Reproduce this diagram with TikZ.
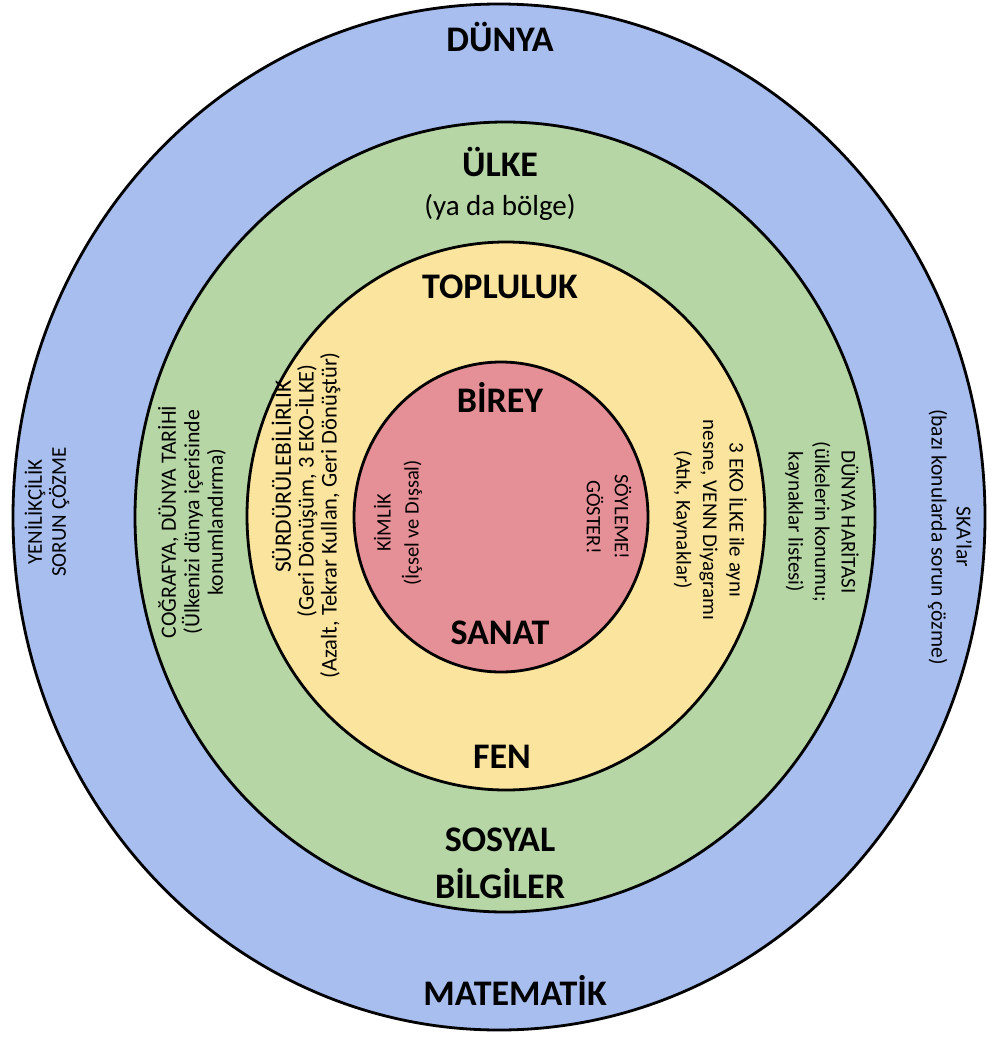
\documentclass[tikz,border=0pt]{standalone}
\usepackage{fontspec}
\setmainfont{Carlito}
\definecolor{blueC}{RGB}{168,190,238}
\definecolor{greenC}{RGB}{183,214,166}
\definecolor{yellowC}{RGB}{250,228,158}
\definecolor{redC}{RGB}{229,143,150}
\begin{document}
\begin{tikzpicture}[x=1pt,y=-1pt,
  ring/.style={draw=black, line width=2.8pt},
  big/.style={font=\fontsize{36}{40}\selectfont\bfseries, anchor=base, inner sep=0pt},
  mid/.style={font=\fontsize{29}{32}\selectfont, anchor=base, inner sep=0pt},
  small/.style={font=\fontsize{21}{24}\selectfont, align=center, inner sep=0pt},
  inner/.style={font=\fontsize{20.5}{28}\selectfont, align=center, inner sep=0pt},
]
\useasboundingbox (0,0) rectangle (992,1038);
\fill[white] (0,0) rectangle (992,1038);
\path[ring, fill=blueC] (499,517) ellipse [x radius=486, y radius=513];
\path[ring, fill=greenC] (505,517) ellipse [x radius=370, y radius=395];
\path[ring, fill=yellowC] (506,516) ellipse [x radius=259, y radius=274];
\path[ring, fill=redC] (501,517) ellipse [x radius=147, y radius=155];

\node[big] (dunya) at (500,52) {DÜNYA};
\node[big] (ulke) at (500,176) {ÜLKE};
\node[mid] (bolge) at (500,215) {(ya da bölge)};
\node[big] (topluluk) at (500,298) {TOPLULUK};
\node[big] (birey) at (500,412) {BİREY};
\node[big] (sanat) at (500,644) {SANAT};
\node[big] (fen) at (502,768) {FEN};
\node[big] (sosyal) at (500,851) {SOSYAL};
\node[big] (bilgiler) at (500,898) {BİLGİLER};
\node[big] (matematik) at (515,1005) {MATEMATİK};

\node[small, rotate=90] (yenilik) at (47,512) {YENİLİKÇİLİK\\SORUN ÇÖZME};
\node[small, rotate=90, font=\fontsize{21.8}{23.5}\selectfont] (cografya) at (192,522) {COĞRAFYA, DÜNYA TARİHİ\\(Ülkenizi dünya içerisinde\\konumlandırma)};
\node[small, rotate=90, align=right, anchor=east, font=\fontsize{22.5}{22.8}\selectfont] (surdur) at (306,352) {{\fontsize{23.5}{22.8}\selectfont SÜRDÜRÜLEBİLİRLİK}\rule{28pt}{0pt}\\(Geri Dönüşüm, 3 EKO-İLKE)\rule{12pt}{0pt}\\(Azalt, Tekrar Kullan, Geri Dönüştür)};
\node[inner, rotate=90] (kimlik) at (398,523) {KİMLİK\\(İçsel ve Dışsal)};
\node[inner, rotate=-90] (soyleme) at (609,517) {SÖYLEME!\\GÖSTER!};
\node[small, rotate=-90, font=\fontsize{21}{26.5}\selectfont] (eko) at (710,520) {3 EKO İLKE ile aynı\\nesne, VENN Diyagramı\\(Atık, Kaynaklar)};
\node[small, rotate=-90, font=\fontsize{21}{26.5}\selectfont] (harita) at (822,522) {DÜNYA HARİTASI\\(ülkelerin konumu;\\kaynaklar listesi)};
\node[small, rotate=-90, font=\fontsize{21.5}{25}\selectfont] (ska) at (950,537) {SKA'lar\\(bazı konularda sorun çözme)};
\end{tikzpicture}
\end{document}
